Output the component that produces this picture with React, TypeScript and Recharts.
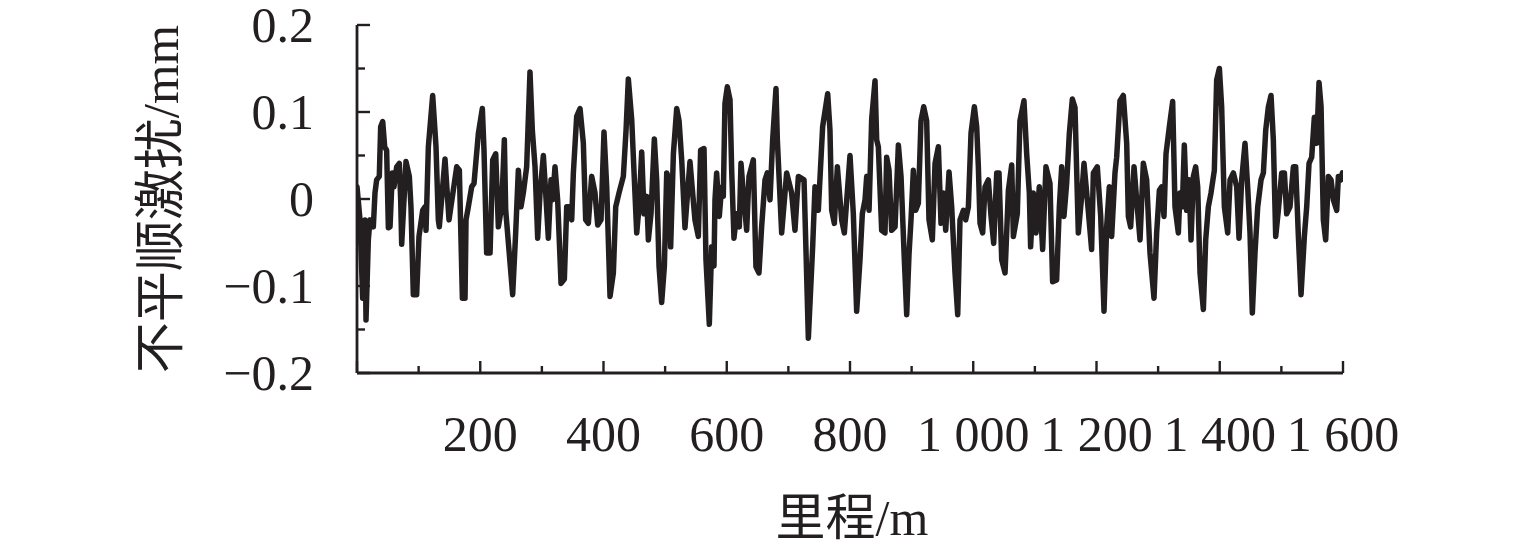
import React from 'react';
import { LineChart, Line, XAxis, YAxis, Label } from 'recharts';

// Track irregularity excitation: [mileage (m), irregularity (mm)]
const profileSamples: [number, number][] = [
  [0, 0.014], [4.9, -0.024], [9.2, -0.114], [13.0, -0.024], [14.6, -0.139], [18.4, -0.047],
  [21.1, -0.024], [26.5, -0.032], [29.2, 0.007], [31.9, 0.022], [36.2, 0.026], [38.4, 0.083],
  [41.7, 0.089], [44.9, 0.060], [48.1, 0.056], [50.9, -0.033], [53.6, -0.032], [57.3, 0.030],
  [60.0, 0.014], [64.4, 0.037], [68.7, 0.041], [70.9, -0.001], [72.5, -0.052], [79.5, 0.043],
  [84.9, 0.026], [87.6, -0.009], [91.4, -0.110], [96.8, -0.110], [100.6, -0.043], [106.6, -0.013],
  [110.4, -0.009], [112.0, -0.036], [115.8, 0.060], [122.8, 0.119], [128.2, 0.060], [132.0, -0.024],
  [133.6, -0.032], [142.8, 0.046], [149.3, -0.024], [161.8, 0.037], [166.1, 0.033], [171.0, -0.114],
  [175.3, -0.114], [176.9, -0.024], [180.7, -0.009], [186.1, 0.014], [189.9, 0.018], [196.9, 0.075],
  [203.4, 0.104], [206.1, 0.056], [210.4, -0.062], [215.9, -0.062], [220.2, 0.045], [225.1, 0.052],
  [229.4, -0.032], [234.8, -0.009], [239.1, 0.068], [241.3, -0.013], [252.6, -0.110], [257.5, -0.039],
  [261.8, 0.033], [266.1, -0.009], [269.9, 0.007], [275.3, 0.037], [280.7, 0.146], [284.5, 0.079],
  [288.9, 0.037], [293.2, -0.045], [297.0, 0.007], [302.4, 0.050], [306.2, 0.007], [310.5, -0.045],
  [314.8, 0.022], [317.5, -0.001], [321.3, 0.037], [325.6, -0.001], [331.1, -0.097], [336.5, -0.092],
  [340.3, -0.009], [345.7, -0.009], [348.4, -0.024], [351.1, 0.030], [356.5, 0.095], [361.9, 0.104],
  [367.3, 0.064], [371.1, -0.024], [375.4, -0.028], [380.8, 0.026], [386.2, 0.007], [390.6, -0.030],
  [396.0, -0.024], [400.8, 0.077], [405.2, 0.014], [410.6, -0.112], [416.0, -0.085], [419.8, -0.009],
  [425.2, 0.007], [432.2, 0.026], [436.6, 0.079], [440.3, 0.138], [445.8, 0.091], [450.1, 0.022],
  [453.9, -0.039], [457.7, -0.009], [462.0, 0.054], [465.8, -0.017], [470.1, 0.003], [472.8, -0.047],
  [477.1, -0.017], [482.5, 0.069], [486.3, 0.022], [490.1, -0.077], [494.4, -0.119], [498.8, -0.077],
  [502.6, 0.030], [506.3, 0.022], [509.0, -0.055], [513.4, 0.052], [518.8, 0.104], [522.6, 0.090],
  [526.9, 0.045], [532.2, -0.033], [540.3, 0.043], [548.4, -0.024], [553.9, -0.043], [557.6, 0.056],
  [563.1, 0.058], [566.3, -0.070], [571.7, -0.144], [575.5, -0.055], [579.3, -0.077], [580.9, -0.001],
  [583.6, 0.030], [587.9, -0.020], [591.7, 0.014], [594.4, 0.003], [597.1, 0.110], [600.9, 0.129],
  [605.3, 0.114], [608.0, 0.033], [611.7, -0.045], [616.1, -0.017], [620.4, -0.032], [623.1, 0.041],
  [626.9, 0.007], [632.3, -0.036], [636.1, 0.026], [643.1, 0.045], [647.4, -0.078], [652.3, -0.085],
  [656.6, -0.032], [662.1, 0.022], [665.8, 0.030], [670.2, -0.001], [674.5, 0.068], [679.9, 0.127],
  [682.1, 0.068], [689.1, -0.039], [697.2, 0.030], [705.3, 0.007], [710.7, -0.036], [716.2, 0.026],
  [725.4, 0.022], [728.1, -0.047], [732.4, -0.160], [739.4, -0.055], [743.2, 0.014], [748.6, -0.013],
  [755.6, 0.083], [763.8, 0.121], [767.5, 0.079], [770.3, -0.013], [774.6, -0.028], [779.5, 0.037],
  [786.5, -0.024], [790.8, -0.039], [800.0, 0.050], [805.4, -0.017], [810.8, -0.129], [816.2, -0.070],
  [820.0, -0.017], [824.4, -0.001], [827.1, 0.026], [830.9, -0.013], [835.2, 0.092], [840.6, 0.136],
  [843.3, 0.068], [846.0, 0.060], [851.4, -0.036], [856.8, -0.039], [859.5, 0.048], [863.3, 0.033],
  [867.6, -0.036], [873.1, -0.032], [878.5, 0.062], [882.8, 0.026], [888.2, -0.070], [892.0, -0.133],
  [895.8, -0.063], [899.0, -0.024], [902.8, 0.033], [906.6, -0.013], [910.9, -0.005], [915.2, 0.090],
  [919.6, 0.106], [924.4, 0.090], [928.2, -0.024], [933.6, -0.047], [938.0, 0.041], [943.4, 0.060],
  [947.7, -0.028], [951.5, 0.007], [955.3, -0.036], [960.7, 0.031], [965.0, -0.009], [970.4, -0.085],
  [974.8, -0.133], [978.5, -0.024], [984.0, -0.013], [987.7, -0.024], [992.1, -0.009], [996.4, 0.076],
  [1001.8, 0.106], [1005.6, 0.083], [1008.3, 0.037], [1011.0, -0.028], [1015.3, -0.039], [1019.1, 0.014],
  [1024.5, 0.022], [1028.9, -0.020], [1033.2, -0.051], [1038.1, 0.030], [1041.8, 0.030], [1046.2, -0.070],
  [1051.6, -0.085], [1057.0, 0.010], [1062.4, 0.039], [1065.1, -0.043], [1071.5, -0.017], [1075.8, 0.090],
  [1082.3, 0.113], [1086.7, 0.052], [1091.0, 0.007], [1093.1, -0.055], [1097.5, 0.007], [1101.8, -0.039],
  [1107.2, 0.014], [1112.6, -0.058], [1118.0, 0.037], [1124.5, 0.018], [1128.8, -0.095], [1135.3, -0.093],
  [1139.7, -0.009], [1143.5, 0.037], [1147.2, -0.020], [1151.6, 0.018], [1155.9, 0.075], [1160.8, 0.115],
  [1165.1, 0.105], [1170.5, -0.039], [1175.9, 0.003], [1179.7, 0.041], [1185.1, -0.001], [1192.1, -0.058],
  [1194.9, 0.030], [1201.3, 0.037], [1206.8, -0.020], [1212.2, -0.129], [1216.5, -0.032], [1220.8, 0.014],
  [1224.6, -0.043], [1230.0, 0.030], [1232.7, 0.048], [1238.1, 0.113], [1243.5, 0.119], [1249.0, 0.064],
  [1251.7, -0.020], [1255.4, -0.032], [1260.9, 0.037], [1265.2, -0.001], [1270.6, -0.047], [1276.0, 0.041],
  [1281.4, 0.022], [1286.8, -0.062], [1293.3, -0.114], [1297.6, -0.039], [1302.0, 0.010], [1305.8, 0.014],
  [1309.5, -0.020], [1312.8, 0.052], [1318.2, 0.083], [1323.6, 0.112], [1327.4, -0.009], [1332.8, -0.039],
  [1335.5, 0.007], [1339.3, -0.009], [1342.5, 0.062], [1346.3, -0.013], [1350.1, 0.022], [1353.4, -0.047],
  [1357.2, 0.026], [1360.9, 0.037], [1364.2, 0.014], [1368.0, -0.085], [1373.4, -0.127], [1377.2, -0.047],
  [1381.5, -0.009], [1385.8, 0.007], [1391.2, 0.033], [1395.0, 0.137], [1399.4, 0.150], [1403.1, 0.106],
  [1407.5, -0.009], [1412.9, -0.039], [1416.7, 0.022], [1422.1, 0.030], [1427.5, 0.014], [1431.3, -0.045],
  [1435.6, 0.022], [1441.0, 0.064], [1445.3, 0.014], [1449.1, -0.039], [1452.9, -0.131], [1457.2, -0.062],
  [1461.6, -0.009], [1467.0, 0.022], [1470.8, 0.030], [1474.6, 0.079], [1478.9, 0.106], [1483.2, 0.119],
  [1487.0, 0.067], [1490.8, -0.043], [1495.1, -0.013], [1500.5, 0.030], [1504.9, 0.030], [1508.6, -0.017],
  [1514.0, -0.009], [1519.5, 0.037], [1523.2, 0.037], [1527.6, -0.043], [1531.9, -0.110], [1537.3, -0.043],
  [1541.1, -0.009], [1544.9, 0.041], [1549.2, 0.048], [1553.5, 0.094], [1557.3, 0.064], [1561.1, 0.134],
  [1564.4, 0.106], [1568.1, -0.024], [1571.9, -0.047], [1576.3, 0.026], [1580.6, 0.022], [1584.4, -0.001],
  [1589.8, -0.013], [1592.5, 0.026], [1596.3, 0.022], [1599.0, 0.030],
];

const xTicks = [0, 100, 200, 300, 400, 500, 600, 700, 800, 900, 1000, 1100, 1200, 1300, 1400, 1500, 1600];
const yTicks = [-0.2, -0.15, -0.1, -0.05, 0, 0.05, 0.1, 0.15, 0.2];

const INK = '#231f20';
const FONT = '"Liberation Serif", "Noto Sans CJK SC", serif';

const chartData = profileSamples.map(([d, v]) => ({ d, v }));

// 1000 -> "1 000"
const formatMileage = (v: number) => {
  const s = String(v);
  return s.length > 3 ? `${s.slice(0, s.length - 3)} ${s.slice(-3)}` : s;
};

const formatIrregularity = (v: number) => {
  if (Math.abs(v) < 1e-9) return '0';
  return v < 0 ? `\u2212${Math.abs(v).toFixed(1)}` : v.toFixed(1);
};

const XTick = (props: any) => {
  const { x, y, payload } = props;
  const value = payload.value as number;
  const major = value % 200 === 0;
  return (
    <g>
      <line x1={x} x2={x} y1={y} y2={y - (major ? 12 : 7)} stroke={INK} strokeWidth={2.4} />
      {major && value > 0 && (
        <text x={x} y={y + 78} textAnchor="middle" fill={INK} fontSize={50} fontFamily={FONT}>
          {formatMileage(value)}
        </text>
      )}
    </g>
  );
};

const YTick = (props: any) => {
  const { x, y, payload } = props;
  const value = payload.value as number;
  const major = Math.abs(value * 10 - Math.round(value * 10)) < 1e-6;
  return (
    <g>
      <line x1={x} x2={x + (major ? 13 : 8)} y1={y} y2={y} stroke={INK} strokeWidth={2.4} />
      {major && (
        <text x={x - 43} y={y + 17} textAnchor="end" fill={INK} fontSize={50} fontFamily={FONT}>
          {formatIrregularity(value)}
        </text>
      )}
    </g>
  );
};

const App: React.FC = () => {
  return (
    <div style={{ position: 'absolute', left: 0, top: 0, width: 1535, height: 551, background: '#fff' }}>
      <LineChart width={1535} height={551} data={chartData} margin={{ top: 25, right: 192, bottom: 0, left: 0 }}>
        <XAxis
          type="number"
          dataKey="d"
          domain={[0, 1600]}
          ticks={xTicks}
          interval={0}
          height={178}
          tickSize={0}
          tickMargin={0}
          tick={XTick}
          axisLine={{ stroke: INK, strokeWidth: 2.8 }}
          tickLine={false}
          allowDataOverflow
        >
          <Label
            content={(p: any) => {
              const vb = p.viewBox;
              return (
                <text x={vb.x + vb.width / 2 + 2} y={vb.y + 162} textAnchor="middle" fill={INK} fontSize={50} fontFamily={FONT}>
                  里程/m
                </text>
              );
            }}
          />
        </XAxis>
        <YAxis
          type="number"
          domain={[-0.2, 0.2]}
          ticks={yTicks}
          interval={0}
          width={357}
          tickSize={0}
          tickMargin={0}
          tick={YTick}
          axisLine={{ stroke: INK, strokeWidth: 2.8 }}
          tickLine={false}
          allowDataOverflow
        >
          <Label
            content={(p: any) => {
              const vb = p.viewBox;
              const cx = vb.x + 161;
              const cy = vb.y + vb.height / 2;
              return (
                <text
                  x={cx}
                  y={cy}
                  transform={`rotate(-90 ${cx} ${cy})`}
                  textAnchor="middle"
                  dominantBaseline="central"
                  fill={INK}
                  fontSize={51}
                  fontFamily={FONT}
                >
                  不平顺激扰/mm
                </text>
              );
            }}
          />
        </YAxis>
        <Line
          type="linear"
          dataKey="v"
          stroke={INK}
          strokeWidth={5.5}
          strokeLinejoin="round"
          strokeLinecap="round"
          dot={false}
          activeDot={false}
          isAnimationActive={false}
        />
      </LineChart>
    </div>
  );
};

export default App;
